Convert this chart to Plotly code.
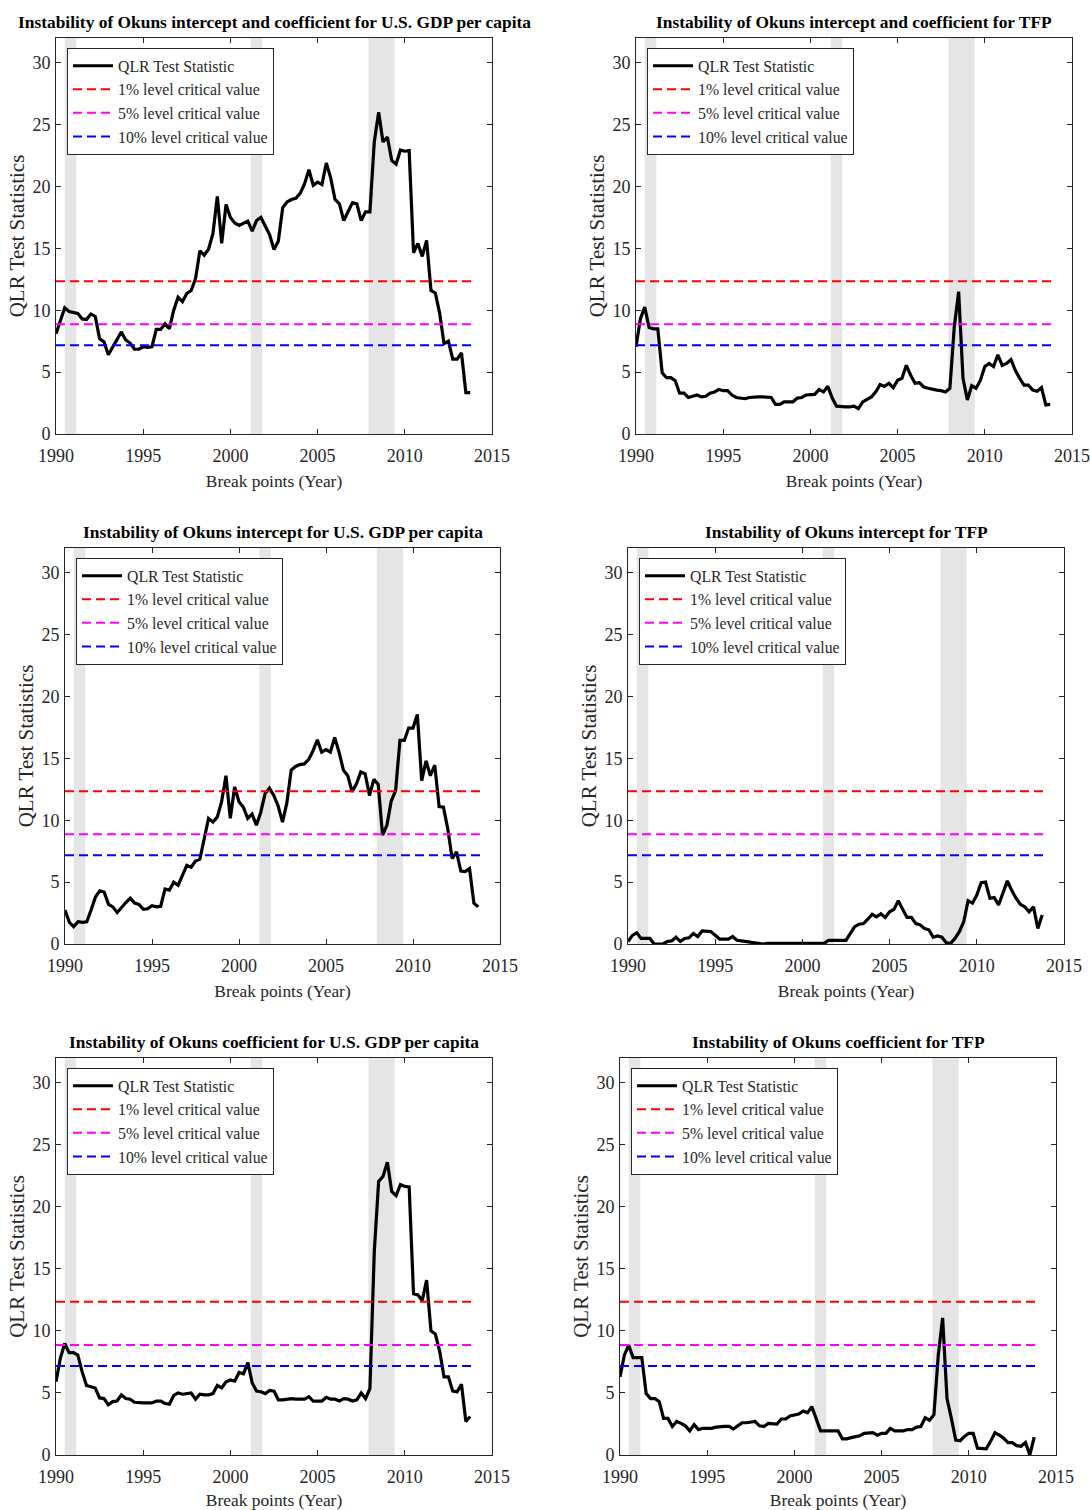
import plotly.graph_objects as go

# ---------------- data ----------------
break_dates = [1990 + q / 4 for q in range(96)]  # quarterly break points 1990Q1..2013Q4

qlr_gdp_both = [8.1, 9.2, 10.2, 9.9, 9.85, 9.75, 9.3, 9.25, 9.7, 9.5, 7.7, 7.45,
                6.4, 7.05, 7.6, 8.25, 7.6, 7.35, 6.85, 6.85, 7.05, 7.0, 7.05, 8.45,
                8.45, 8.9, 8.5, 10.0, 11.05, 10.7, 11.35, 11.6, 12.55, 14.8, 14.45, 14.95,
                16.2, 19.2, 15.4, 18.55, 17.5, 17.05, 16.85, 17.05, 17.2, 16.4, 17.25, 17.5,
                16.8, 16.1, 14.9, 15.6, 18.3, 18.75, 18.95, 19.05, 19.45, 20.2, 21.35, 20.1,
                20.35, 20.15, 21.9, 20.7, 18.95, 18.6, 17.25, 18.05, 18.7, 18.6, 17.25, 17.95,
                17.95, 23.6, 26.0, 23.6, 24.0, 22.1, 21.8, 22.95, 22.85, 22.9, 14.65, 15.4,
                14.35, 15.65, 11.6, 11.4, 9.75, 7.3, 7.5, 6.05, 6.05, 6.55, 3.35, 3.35]

qlr_tfp_both = [7.05, 9.3, 10.25, 8.6, 8.5, 8.5, 4.95, 4.55, 4.55, 4.3, 3.3, 3.3,
                2.95, 3.05, 3.15, 3.0, 3.05, 3.3, 3.4, 3.6, 3.5, 3.5, 3.15, 2.95,
                2.9, 2.85, 2.95, 3.0, 3.0, 3.0, 2.95, 2.95, 2.4, 2.4, 2.6, 2.6,
                2.6, 2.9, 2.95, 3.15, 3.2, 3.2, 3.6, 3.4, 3.85, 2.9, 2.25, 2.2,
                2.2, 2.2, 2.25, 2.05, 2.6, 2.8, 3.0, 3.4, 4.0, 3.85, 4.1, 3.75,
                4.35, 4.5, 5.55, 4.75, 4.1, 4.15, 3.8, 3.7, 3.6, 3.55, 3.5, 3.4,
                3.7, 8.65, 11.5, 4.5, 2.75, 3.9, 3.7, 4.35, 5.45, 5.7, 5.45, 6.4,
                5.55, 5.7, 6.0, 5.15, 4.5, 3.95, 3.95, 3.55, 3.45, 3.75, 2.35, 2.4]

qlr_gdp_intercept = [2.75, 1.75, 1.4, 1.8, 1.75, 1.8, 2.75, 3.8, 4.3, 4.2, 3.2, 3.0,
                     2.55, 3.0, 3.35, 3.7, 3.3, 3.2, 2.8, 2.85, 3.1, 3.0, 3.05, 4.45,
                     4.35, 5.0, 4.75, 5.55, 6.35, 6.2, 6.7, 6.85, 8.4, 10.15, 9.85, 10.25,
                     11.5, 13.6, 10.15, 12.7, 11.5, 11.05, 10.15, 10.5, 9.6, 10.65, 12.15, 12.6,
                     12.0, 11.15, 9.85, 11.4, 14.05, 14.35, 14.5, 14.55, 14.9, 15.6, 16.5, 15.5,
                     15.7, 15.5, 16.7, 15.5, 14.05, 13.6, 12.3, 12.95, 13.9, 13.75, 12.0, 13.3,
                     12.9, 8.8, 9.6, 11.55, 12.4, 16.45, 16.45, 17.45, 17.45, 18.55, 13.2, 14.8,
                     13.6, 14.45, 11.1, 11.05, 9.3, 6.9, 7.45, 5.9, 5.85, 6.1, 3.3, 3.0]

qlr_tfp_intercept = [0.2, 0.7, 0.9, 0.45, 0.45, 0.45, 0.0, 0.0, 0.0, 0.2, 0.25, 0.55,
                     0.2, 0.45, 0.5, 0.85, 0.6, 1.05, 1.0, 1.0, 0.7, 0.4, 0.4, 0.4,
                     0.6, 0.3, 0.25, 0.2, 0.15, 0.05, 0.05, 0.0, 0.05, 0.05, 0.0, 0.0,
                     0.05, 0.0, 0.0, 0.05, 0.0, 0.0, 0.0, 0.0, 0.0, 0.05, 0.3, 0.3,
                     0.3, 0.25, 0.3, 0.85, 1.4, 1.6, 1.65, 2.0, 2.4, 2.2, 2.45, 2.15,
                     2.6, 2.8, 3.5, 2.8, 2.15, 2.15, 1.65, 1.55, 1.25, 1.15, 0.55, 0.65,
                     0.55, 0.1, 0.05, 0.45, 1.0, 1.8, 3.5, 3.3, 3.95, 4.95, 5.0, 3.7,
                     3.75, 3.15, 4.1, 5.1, 4.35, 3.7, 3.2, 3.0, 2.6, 3.0, 1.25, 2.35]

qlr_gdp_coef = [5.9, 7.8, 9.0, 8.25, 8.25, 8.05, 6.7, 5.6, 5.5, 5.4, 4.6, 4.55,
                4.05, 4.3, 4.35, 4.85, 4.55, 4.5, 4.25, 4.2, 4.2, 4.2, 4.2, 4.35,
                4.35, 4.15, 4.1, 4.8, 5.0, 4.9, 4.95, 5.0, 4.5, 4.9, 4.85, 4.85,
                4.95, 5.6, 5.4, 5.9, 6.05, 5.95, 6.65, 6.55, 7.45, 5.8, 5.15, 5.1,
                4.95, 5.2, 5.15, 4.45, 4.45, 4.5, 4.55, 4.5, 4.5, 4.5, 4.7, 4.35,
                4.35, 4.35, 4.65, 4.5, 4.5, 4.35, 4.55, 4.5, 4.35, 4.45, 5.0, 4.55,
                5.35, 16.4, 22.05, 22.45, 23.6, 21.25, 20.9, 21.8, 21.65, 21.6, 13.0, 12.9,
                12.45, 14.1, 10.0, 9.75, 8.35, 6.3, 6.3, 5.15, 5.1, 5.7, 2.7, 3.1]

qlr_tfp_coef = [6.3, 8.05, 8.85, 7.85, 7.85, 7.85, 4.95, 4.55, 4.55, 4.3, 2.95, 2.95,
                2.3, 2.7, 2.55, 2.35, 1.95, 2.45, 2.05, 2.15, 2.15, 2.15, 2.25, 2.3,
                2.3, 2.3, 2.1, 2.35, 2.6, 2.6, 2.65, 2.7, 2.35, 2.3, 2.55, 2.5,
                2.5, 2.9, 2.9, 3.15, 3.25, 3.3, 3.55, 3.4, 3.9, 2.95, 1.95, 1.95,
                1.95, 1.95, 1.95, 1.3, 1.3, 1.4, 1.5, 1.55, 1.75, 1.75, 1.8, 1.6,
                1.75, 1.75, 2.15, 1.95, 1.95, 1.95, 2.05, 2.05, 2.25, 2.3, 3.0, 2.8,
                3.25, 8.05, 11.05, 4.55, 2.95, 1.2, 1.15, 1.5, 1.75, 1.75, 0.55, 0.55,
                0.5, 1.1, 1.8, 1.6, 1.35, 1.0, 1.0, 0.75, 0.7, 1.0, 0.0, 1.45]

critical_labels = ["1% level critical value", "5% level critical value", "10% level critical value"]
critical_values = [12.35, 8.87, 7.17]
critical_colors = ["#FF0000", "#FF00FF", "#0000FF"]
critical_span = [1990, 2014]

recession_starts = [1990.5, 2001.17, 2007.92]
recession_ends = [1991.17, 2001.83, 2009.42]

panel_titles = [
    "Instability of Okuns intercept and coefficient for U.S. GDP per capita",
    "Instability of Okuns intercept and coefficient for TFP",
    "Instability of Okuns intercept for U.S. GDP per capita",
    "Instability of Okuns intercept for TFP",
    "Instability of Okuns coefficient for U.S. GDP per capita",
    "Instability of Okuns coefficient for TFP",
]
panel_series = [qlr_gdp_both, qlr_tfp_both, qlr_gdp_intercept,
                qlr_tfp_intercept, qlr_gdp_coef, qlr_tfp_coef]

x_ticks = [1990, 1995, 2000, 2005, 2010, 2015]
y_ticks = [0, 5, 10, 15, 20, 25, 30]

# ---------------- layout geometry (pixels) ----------------
W, H = 1090, 1510
panel_px = [  # x0, x1, y0(top), y1(bottom)
    (56, 492, 38, 434),
    (636, 1072, 38, 434),
    (65, 500, 548, 944),
    (628, 1064, 548, 944),
    (56, 492, 1058, 1455),
    (620, 1056, 1058, 1455),
]

FONT = "Times New Roman, Liberation Serif, serif"
AX_COLOR = "#262626"

fig = go.Figure()
layout = dict(
    width=W, height=H,
    margin=dict(l=0, r=0, t=0, b=0, autoexpand=False),
    paper_bgcolor="white", plot_bgcolor="white",
    font=dict(family=FONT, color=AX_COLOR),
    showlegend=True,
)
annotations = []
shapes = []

for i, (x0, x1, y0, y1) in enumerate(panel_px):
    n = i + 1
    xa = "x" if n == 1 else f"x{n}"
    ya = "y" if n == 1 else f"y{n}"
    lg = "legend" if n == 1 else f"legend{n}"

    fig.add_trace(go.Scatter(
        x=break_dates, y=panel_series[i], mode="lines",
        line=dict(color="black", width=3.2),
        name="QLR Test Statistic", xaxis=xa, yaxis=ya, legend=lg))
    for lab, val, col in zip(critical_labels, critical_values, critical_colors):
        fig.add_trace(go.Scatter(
            x=critical_span, y=[val, val], mode="lines",
            line=dict(color=col, width=2, dash="9px,5px"),
            name=lab, xaxis=xa, yaxis=ya, legend=lg))

    xdom = [x0 / W, x1 / W]
    ydom = [1 - y1 / H, 1 - y0 / H]
    common = dict(showline=True, linecolor=AX_COLOR, linewidth=1, mirror="ticks",
                  ticks="inside", ticklen=5, tickcolor=AX_COLOR, showgrid=False,
                  zeroline=False, automargin=False,
                  tickfont=dict(family=FONT, size=18, color=AX_COLOR))
    layout["xaxis" if n == 1 else f"xaxis{n}"] = dict(
        domain=xdom, range=[1990, 2015], tickvals=x_ticks,
        anchor=ya, ticklabelstandoff=5,
        title=dict(text="Break points (Year)", font=dict(family=FONT, size=17.4, color=AX_COLOR), standoff=10),
        **common)
    layout["yaxis" if n == 1 else f"yaxis{n}"] = dict(
        domain=ydom, range=[0, 32], tickvals=y_ticks,
        anchor=xa, ticklabelstandoff=1,
        title=dict(text="QLR Test Statistics", font=dict(family=FONT, size=21, color=AX_COLOR), standoff=2),
        **common)
    layout[lg] = dict(
        x=(x0 + 11) / W, y=1 - (y0 + 10) / H, xanchor="left", yanchor="top",
        bgcolor="white", bordercolor=AX_COLOR, borderwidth=1,
        font=dict(family=FONT, size=15.8, color=AX_COLOR),
        tracegroupgap=0, itemwidth=40,
    )

    for rs, re_ in zip(recession_starts, recession_ends):
        shapes.append(dict(type="rect", xref=xa, yref=f"{ya} domain",
                           x0=rs, x1=re_, y0=0, y1=1, fillcolor="#E5E5E5",
                           line=dict(width=0), layer="below"))

    annotations.append(dict(
        text=panel_titles[i], xref="paper", yref="paper",
        x=(x0 + x1) / 2 / W, y=1 - y0 / H, xanchor="center", yanchor="bottom",
        yshift=4, showarrow=False,
        font=dict(family=FONT, size=17.4, color="black", weight="bold")))

layout["annotations"] = annotations
layout["shapes"] = shapes
fig.update_layout(**layout)
fig.write_html("out.html", config={"displayModeBar": False},
               post_script="document.body.style.margin='0';document.body.style.padding='0';")
